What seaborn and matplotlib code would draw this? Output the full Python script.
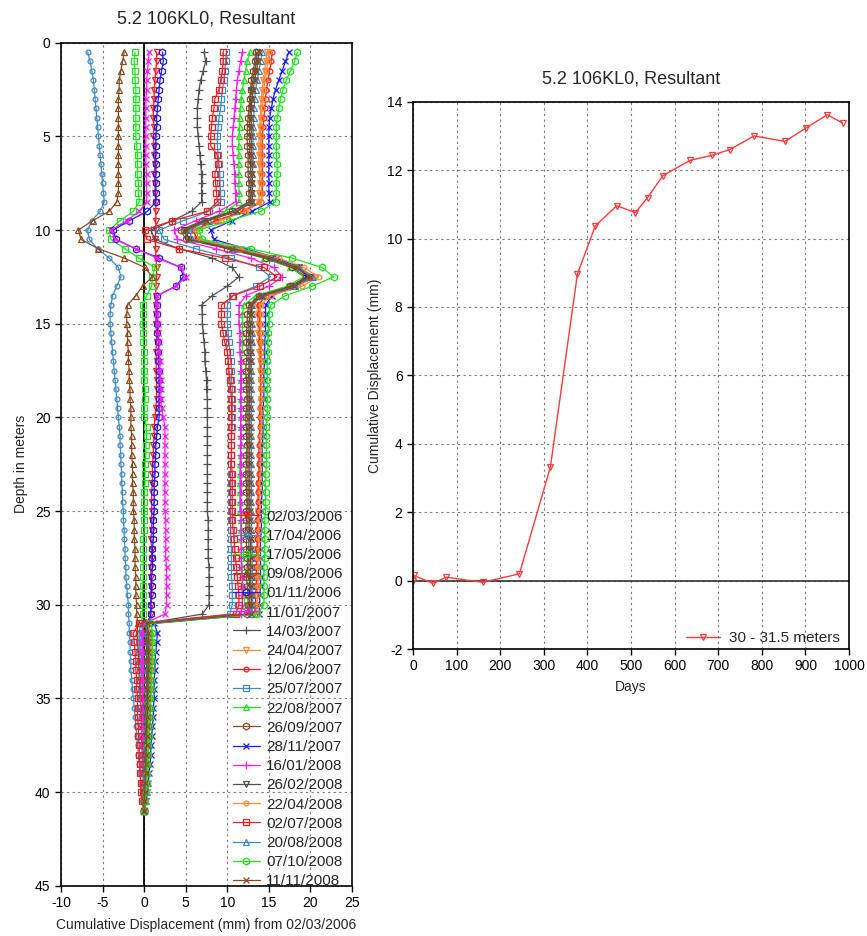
import numpy as np
import matplotlib
matplotlib.use("Agg")
import matplotlib.pyplot as plt
import seaborn as sns

# inclinometer 5.2 106KL0 - resultant cumulative displacement profiles

sns.set_style("white")
plt.rcParams['font.family'] = ['Liberation Sans', 'DejaVu Sans']
plt.rcParams['axes.unicode_minus'] = False

# depth of each reading (m), one every 0.5 m
depth_m = np.arange(0.5, 41.01, 0.5)

# cumulative displacement (mm) per survey, read top to bottom
# rows: 0.5-8.5 m | 9-14 m | 14.5-30.5 m | 31-41 m
d_02_03_2006 = [1.5, 1.5, 1.4, 1.3, 1.2, 1.2, 1.1, 1.1, 1.2, 1.1, 1.2, 1.2, 1.3, 1.2, 1.3, 1.3, 1.4,
                1.4, 1.4, 1.4, 1.3, 1.4, 1.4, 1.5, 1.5, 1.4, 1.4, 1.4,
                1.4, 1.4, 1.5, 1.5, 1.4, 1.5, 1.4, 1.5, 1.5, 1.5, 1.4,
                1.3, 1.2, 1.2, 1.1, 1.1, 1.0, 1.0, 1.0, 0.9, 0.9, 0.9,
                0.9, 0.9, 0.8, 0.9, 0.9, 0.8, 0.8, 0.8, 0.8, 0.8, 0.8,
                0.3, 0.5, 0.6, 0.6, 0.6, 0.5, 0.5, 0.5, 0.4, 0.4, 0.4,
                0.3, 0.3, 0.3, 0.2, 0.2, 0.2, 0.1, 0.1, 0.1, 0.0]
d_17_04_2006 = [-6.8, -6.5, -6.3, -6.1, -6.0, -5.9, -5.8, -5.7, -5.6, -5.5, -5.4, -5.3, -5.2, -5.1, -5.0, -4.9, -4.8,
                -5.3, -6.3, -6.8, -6.6, -5.6, -4.2, -3.1, -2.8, -3.3, -3.8, -4.0,
                -4.1, -4.1, -4.0, -3.9, -3.8, -3.7, -3.6, -3.5, -3.4, -3.3, -3.2,
                -3.1, -3.0, -2.9, -2.9, -2.8, -2.8, -2.7, -2.7, -2.6, -2.6, -2.5,
                -2.5, -2.4, -2.4, -2.3, -2.3, -2.2, -2.2, -2.1, -2.0, -1.9, -1.9,
                -1.8, -1.8, -1.7, -1.7, -1.6, -1.6, -1.5, -1.4, -1.3, -1.2, -1.1,
                -1.0, -0.9, -0.8, -0.7, -0.6, -0.5, -0.4, -0.3, -0.2, 0.0]
d_17_05_2006 = [-1.1, -1.2, -1.1, -1.1, -1.0, -1.0, -1.0, -1.0, -1.0, -1.0, -0.9, -0.8, -0.8, -0.8, -0.7, -0.7, -0.6,
                -1.3, -2.9, -4.2, -4.0, -2.3, -0.6, 1.3, 1.0, 0.9, 0.3, -0.2,
                -0.2, -0.2, -0.1, -0.1, 0.0, 0.0, 0.0, 0.0, 0.1, 0.1, 0.0,
                0.0, 0.3, 0.3, 0.2, 0.2, 0.1, 0.1, 0.1, 0.0, 0.0, 0.0,
                0.0, 0.0, -0.1, -0.1, -0.1, -0.1, -0.1, -0.2, -0.2, -0.2, -0.2,
                -0.3, -0.2, -0.2, -0.2, -0.1, -0.1, -0.1, -0.1, 0.0, 0.0, 0.0,
                0.0, 0.0, 0.0, 0.0, 0.0, 0.0, 0.0, 0.0, 0.0, 0.0]
d_09_08_2006 = [-2.4, -2.6, -2.8, -3.0, -3.0, -3.1, -3.1, -3.1, -3.1, -3.1, -3.1, -3.1, -3.1, -3.1, -3.1, -3.1, -3.3,
                -4.2, -6.2, -7.9, -7.6, -5.5, -2.4, 0.1, 1.0, -0.2, -1.0, -2.0,
                -2.1, -2.1, -2.0, -2.0, -1.9, -1.9, -1.8, -1.8, -1.7, -1.7, -1.6,
                -1.6, -1.6, -1.5, -1.5, -1.5, -1.4, -1.4, -1.4, -1.3, -1.3, -1.3,
                -1.2, -1.2, -1.2, -1.1, -1.1, -1.1, -1.0, -1.0, -1.0, -0.9, -0.9,
                -0.8, -0.8, -0.8, -0.7, -0.7, -0.6, -0.6, -0.5, -0.5, -0.4, -0.4,
                -0.3, -0.3, -0.3, -0.2, -0.2, -0.1, -0.1, -0.1, 0.0, 0.0]
d_01_11_2006 = [2.2, 2.3, 2.1, 1.9, 1.8, 1.7, 1.6, 1.5, 1.5, 1.4, 1.4, 1.4, 1.4, 1.4, 1.4, 1.4, 1.4,
                0.4, -1.8, -3.7, -3.4, -1.0, 1.8, 4.4, 4.7, 3.8, 1.6, 1.5,
                1.5, 1.6, 1.6, 1.7, 1.7, 1.7, 1.8, 1.8, 1.8, 1.8, 1.8,
                1.8, 1.6, 1.5, 1.4, 1.4, 1.3, 1.3, 1.2, 1.2, 1.2, 1.2,
                1.1, 1.1, 1.1, 1.0, 1.0, 1.0, 0.9, 0.9, 0.9, 0.8, 0.8,
                0.6, 0.6, 0.5, 0.5, 0.5, 0.4, 0.4, 0.4, 0.3, 0.3, 0.3,
                0.3, 0.2, 0.2, 0.2, 0.2, 0.1, 0.1, 0.1, 0.0, 0.0]
d_11_01_2007 = [0.6, 0.5, 0.4, 0.3, 0.3, 0.2, 0.2, 0.2, 0.2, 0.2, 0.2, 0.2, 0.2, 0.3, 0.3, 0.3, 0.3,
                -0.6, -2.1, -4.0, -3.5, -1.0, 1.6, 4.4, 5.0, 3.8, 1.6, 1.5,
                1.6, 1.7, 1.7, 1.8, 1.8, 1.9, 1.9, 2.0, 2.0, 2.0, 2.1,
                2.3, 2.5, 2.5, 2.5, 2.5, 2.5, 2.5, 2.5, 2.5, 2.5, 2.5,
                2.6, 2.6, 2.6, 2.6, 2.6, 2.7, 2.7, 2.7, 2.7, 2.7, 2.5,
                0.0, -0.3, -0.4, -0.4, -0.3, -0.3, -0.3, -0.2, -0.2, -0.2, -0.2,
                -0.1, -0.1, -0.1, -0.1, -0.1, 0.0, 0.0, 0.0, 0.0, 0.0]
d_14_03_2007 = [7.2, 7.4, 7.1, 6.8, 6.6, 6.5, 6.4, 6.4, 6.4, 6.5, 6.6, 6.7, 6.8, 6.9, 6.9, 6.9, 6.9,
                5.7, 3.4, 0.8, 1.3, 4.2, 8.2, 10.6, 11.4, 10.0, 8.2, 6.9,
                7.0, 7.0, 7.1, 7.2, 7.3, 7.3, 7.4, 7.5, 7.5, 7.6, 7.6,
                7.6, 7.6, 7.6, 7.6, 7.6, 7.6, 7.6, 7.6, 7.6, 7.6, 7.6,
                7.7, 7.7, 7.7, 7.7, 7.7, 7.8, 7.8, 7.8, 7.8, 7.8, 7.0,
                0.2, 0.3, 0.4, 0.4, 0.4, 0.4, 0.3, 0.3, 0.3, 0.3, 0.2,
                0.2, 0.2, 0.2, 0.1, 0.1, 0.1, 0.1, 0.0, 0.0, 0.0]
d_24_04_2007 = [14.8, 14.6, 14.5, 14.3, 14.2, 14.1, 14.0, 14.0, 13.9, 13.8, 13.8, 13.8, 13.8, 13.9, 13.9, 13.8, 13.8,
                11.8, 9.0, 5.8, 6.4, 11.4, 15.8, 18.6, 20.6, 18.4, 14.8, 13.6,
                13.6, 13.7, 13.7, 13.8, 13.8, 13.9, 13.9, 14.0, 14.0, 14.0, 14.0,
                14.0, 14.0, 14.0, 14.0, 13.9, 13.9, 13.9, 13.8, 13.8, 13.8, 13.7,
                13.7, 13.7, 13.6, 13.6, 13.6, 13.5, 13.5, 13.5, 13.4, 13.4, 13.2,
                0.3, 0.6, 0.7, 0.7, 0.7, 0.7, 0.6, 0.6, 0.6, 0.5, 0.5,
                0.5, 0.4, 0.4, 0.3, 0.3, 0.2, 0.2, 0.1, 0.1, 0.0]
d_12_06_2007 = [15.4, 15.3, 15.1, 14.9, 14.7, 14.6, 14.5, 14.4, 14.3, 14.2, 14.2, 14.2, 14.2, 14.2, 14.2, 14.2, 14.1,
                12.0, 8.6, 6.0, 6.3, 11.2, 15.4, 18.4, 20.0, 18.0, 14.6, 13.8,
                13.8, 13.9, 13.9, 13.9, 14.0, 14.0, 14.0, 14.0, 14.0, 14.0, 13.9,
                13.9, 13.9, 13.9, 13.8, 13.8, 13.8, 13.8, 13.7, 13.7, 13.7, 13.7,
                13.6, 13.6, 13.6, 13.6, 13.5, 13.5, 13.5, 13.5, 13.4, 13.4, 13.3,
                0.2, 0.5, 0.6, 0.6, 0.6, 0.6, 0.5, 0.5, 0.5, 0.5, 0.4,
                0.4, 0.4, 0.3, 0.3, 0.3, 0.2, 0.2, 0.1, 0.1, 0.0]
d_25_07_2007 = [9.9, 9.8, 9.7, 9.6, 9.4, 9.3, 9.2, 9.0, 8.9, 8.8, 8.8, 8.9, 9.0, 9.1, 9.1, 9.2, 9.2,
                7.8, 4.7, 1.8, 2.4, 6.2, 10.4, 13.8, 15.2, 13.4, 10.6, 10.0,
                10.0, 10.0, 10.1, 10.2, 10.3, 10.4, 10.5, 10.5, 10.6, 10.6, 10.6,
                10.6, 10.6, 10.5, 10.5, 10.5, 10.4, 10.4, 10.4, 10.4, 10.4, 10.4,
                10.4, 10.4, 10.4, 10.5, 10.5, 10.5, 10.5, 10.6, 10.6, 10.6, 10.3,
                -0.4, -0.6, -0.6, -0.6, -0.5, -0.5, -0.5, -0.4, -0.4, -0.4, -0.3,
                -0.3, -0.3, -0.2, -0.2, -0.2, -0.1, -0.1, -0.1, 0.0, 0.0]
d_22_08_2007 = [12.7, 12.4, 12.2, 12.0, 11.8, 11.7, 11.6, 11.5, 11.5, 11.4, 11.4, 11.4, 11.4, 11.4, 11.4, 11.4, 11.4,
                9.8, 7.4, 5.0, 5.4, 10.2, 14.4, 17.6, 19.2, 17.2, 13.4, 12.0,
                11.8, 11.8, 11.8, 11.8, 11.8, 11.7, 11.7, 11.7, 11.7, 11.6, 11.6,
                11.6, 11.6, 11.6, 11.6, 11.6, 11.5, 11.5, 11.5, 11.5, 11.5, 11.5,
                11.6, 11.6, 11.6, 11.7, 11.7, 11.8, 11.8, 11.9, 12.0, 12.1, 12.8,
                0.4, 0.8, 1.0, 1.0, 1.0, 0.9, 0.9, 0.9, 0.8, 0.8, 0.7,
                0.7, 0.6, 0.6, 0.5, 0.5, 0.4, 0.3, 0.2, 0.1, 0.0]
d_26_09_2007 = [13.4, 13.3, 13.1, 12.9, 12.8, 12.7, 12.6, 12.5, 12.4, 12.4, 12.4, 12.5, 12.5, 12.5, 12.6, 12.6, 12.6,
                10.6, 7.0, 4.4, 5.0, 10.0, 14.6, 17.8, 19.5, 17.6, 13.8, 12.6,
                12.4, 12.4, 12.3, 12.3, 12.4, 12.3, 12.2, 12.3, 12.3, 12.4, 12.3,
                12.2, 12.3, 12.3, 12.4, 12.3, 12.3, 12.2, 12.3, 12.3, 12.4, 12.3,
                12.3, 12.2, 12.3, 12.3, 12.4, 12.4, 12.3, 12.4, 12.5, 12.5, 12.4,
                0.1, 0.2, 0.2, 0.3, 0.3, 0.3, 0.3, 0.3, 0.3, 0.3, 0.3,
                0.2, 0.2, 0.2, 0.2, 0.2, 0.1, 0.1, 0.1, 0.0, 0.0]
d_28_11_2007 = [17.4, 17.0, 16.6, 16.2, 15.8, 15.5, 15.3, 15.1, 15.0, 15.0, 15.0, 15.0, 15.0, 15.0, 15.0, 15.0, 15.1,
                13.0, 10.6, 8.0, 8.4, 12.2, 16.0, 18.6, 19.6, 18.2, 15.4, 14.6,
                14.6, 14.6, 14.6, 14.5, 14.5, 14.5, 14.4, 14.4, 14.4, 14.4, 14.3,
                14.3, 14.3, 14.3, 14.2, 14.2, 14.2, 14.2, 14.2, 14.2, 14.1, 14.1,
                14.1, 14.1, 14.0, 14.0, 14.0, 14.0, 14.0, 14.0, 13.9, 13.9, 13.8,
                1.2, 1.6, 1.5, 1.4, 1.3, 1.3, 1.2, 1.2, 1.2, 1.1, 1.1,
                1.0, 0.9, 0.8, 0.8, 0.7, 0.6, 0.5, 0.4, 0.2, 0.0]
d_16_01_2008 = [11.8, 11.6, 11.4, 11.2, 11.1, 11.0, 10.9, 10.8, 10.7, 10.6, 10.6, 10.7, 10.8, 10.9, 10.9, 11.0, 11.0,
                9.0, 6.2, 3.6, 4.0, 8.6, 12.8, 15.6, 16.6, 15.0, 12.2, 11.4,
                11.4, 11.4, 11.5, 11.5, 11.5, 11.6, 11.6, 11.6, 11.6, 11.6, 11.6,
                11.6, 11.6, 11.6, 11.6, 11.6, 11.6, 11.6, 11.6, 11.6, 11.6, 11.6,
                11.7, 11.7, 11.7, 11.7, 11.7, 11.7, 11.8, 11.8, 11.8, 11.8, 11.6,
                -0.1, -0.2, -0.2, -0.2, -0.2, -0.2, -0.2, -0.1, -0.1, -0.1, -0.1,
                -0.1, -0.1, -0.1, 0.0, 0.0, 0.0, 0.0, 0.0, 0.0, 0.0]
d_26_02_2008 = [13.6, 13.5, 13.3, 13.1, 12.9, 12.8, 12.8, 12.7, 12.7, 12.7, 12.7, 12.7, 12.8, 12.8, 12.8, 12.8, 12.8,
                10.8, 7.2, 4.8, 5.2, 10.4, 15.0, 18.2, 19.8, 17.8, 14.0, 12.8,
                12.7, 12.6, 12.6, 12.6, 12.6, 12.6, 12.6, 12.5, 12.5, 12.5, 12.5,
                12.5, 12.5, 12.5, 12.5, 12.5, 12.5, 12.5, 12.5, 12.5, 12.5, 12.5,
                12.5, 12.5, 12.6, 12.6, 12.6, 12.6, 12.6, 12.7, 12.7, 12.7, 12.6,
                0.2, 0.3, 0.3, 0.3, 0.3, 0.3, 0.3, 0.3, 0.2, 0.2, 0.2,
                0.2, 0.2, 0.2, 0.1, 0.1, 0.1, 0.1, 0.0, 0.0, 0.0]
d_22_04_2008 = [15.0, 14.9, 14.7, 14.5, 14.4, 14.3, 14.2, 14.1, 14.0, 14.0, 14.0, 14.0, 14.0, 14.1, 14.1, 14.1, 14.1,
                12.2, 9.2, 6.2, 6.6, 11.6, 16.2, 19.2, 21.0, 19.0, 15.2, 14.0,
                14.0, 14.0, 14.0, 14.1, 14.1, 14.1, 14.1, 14.1, 14.1, 14.1, 14.1,
                14.1, 14.1, 14.0, 14.0, 14.0, 14.0, 14.0, 13.9, 13.9, 13.9, 13.9,
                13.8, 13.8, 13.8, 13.8, 13.7, 13.7, 13.7, 13.7, 13.6, 13.6, 13.5,
                0.4, 0.7, 0.8, 0.8, 0.8, 0.7, 0.7, 0.7, 0.6, 0.6, 0.6,
                0.5, 0.5, 0.4, 0.4, 0.3, 0.3, 0.2, 0.2, 0.1, 0.0]
d_02_07_2008 = [9.5, 9.5, 9.4, 9.2, 9.0, 8.5, 8.4, 8.2, 8.1, 8.0, 8.0, 8.8, 8.9, 8.5, 8.6, 8.7, 8.8,
                7.6, 3.4, 0.1, 0.3, 4.2, 9.7, 14.4, 16.0, 13.9, 10.7, 9.3,
                9.3, 9.3, 9.5, 9.7, 10.0, 10.1, 10.2, 10.3, 10.4, 10.5, 10.5,
                10.5, 10.5, 10.5, 10.5, 10.5, 10.5, 10.6, 10.6, 10.6, 10.6, 10.6,
                10.6, 10.7, 10.8, 10.9, 11.0, 11.1, 11.2, 11.3, 11.4, 11.4, 11.0,
                -0.6, -1.3, -1.2, -1.1, -1.0, -1.0, -0.9, -0.9, -0.8, -0.8, -0.8,
                -0.7, -0.7, -0.6, -0.6, -0.5, -0.5, -0.4, -0.4, -0.3, 0.0]
d_20_08_2008 = [14.2, 14.0, 13.8, 13.6, 13.4, 13.3, 13.2, 13.2, 13.1, 13.1, 13.1, 13.1, 13.1, 13.0, 13.0, 13.0, 13.0,
                11.0, 7.8, 5.4, 5.8, 10.8, 15.4, 18.6, 20.3, 18.2, 14.2, 13.0,
                13.0, 13.0, 13.0, 13.0, 12.9, 12.9, 12.9, 12.9, 12.9, 12.9, 12.9,
                12.9, 12.9, 12.9, 12.9, 12.9, 12.9, 12.9, 12.9, 12.9, 12.9, 12.9,
                12.9, 12.9, 12.9, 13.0, 13.0, 13.0, 13.0, 13.0, 13.0, 13.1, 12.9,
                0.2, 0.4, 0.5, 0.5, 0.5, 0.4, 0.4, 0.4, 0.4, 0.3, 0.3,
                0.3, 0.3, 0.2, 0.2, 0.2, 0.1, 0.1, 0.1, 0.0, 0.0]
d_07_10_2008 = [18.4, 18.1, 17.6, 17.1, 16.7, 16.4, 16.2, 16.0, 15.9, 15.9, 15.9, 15.9, 16.0, 16.0, 15.9, 15.9, 15.8,
                14.0, 10.2, 6.6, 7.0, 12.8, 17.8, 21.4, 22.8, 20.2, 17.0, 15.2,
                15.0, 15.0, 14.9, 14.9, 14.9, 14.8, 14.8, 14.8, 14.8, 14.8, 14.8,
                14.8, 14.7, 14.7, 14.7, 14.7, 14.7, 14.6, 14.6, 14.6, 14.6, 14.6,
                14.5, 14.5, 14.5, 14.5, 14.5, 14.4, 14.4, 14.4, 14.4, 14.4, 13.6,
                0.8, 1.0, 1.0, 0.9, 0.9, 0.8, 0.8, 0.8, 0.7, 0.7, 0.7,
                0.6, 0.6, 0.5, 0.5, 0.4, 0.4, 0.3, 0.2, 0.1, 0.0]
d_11_11_2008 = [13.8, 13.7, 13.5, 13.3, 13.1, 13.0, 12.9, 12.9, 12.9, 12.9, 12.9, 12.9, 13.0, 13.0, 13.0, 13.0, 13.0,
                11.2, 7.6, 5.0, 5.4, 10.6, 15.2, 18.4, 20.0, 18.0, 14.2, 12.9,
                12.9, 12.8, 12.8, 12.8, 12.8, 12.8, 12.7, 12.7, 12.7, 12.7, 12.7,
                12.7, 12.7, 12.7, 12.7, 12.7, 12.7, 12.7, 12.7, 12.7, 12.7, 12.7,
                12.7, 12.7, 12.8, 12.8, 12.8, 12.8, 12.8, 12.8, 12.9, 12.9, 12.8,
                0.3, 0.5, 0.5, 0.5, 0.5, 0.5, 0.4, 0.4, 0.4, 0.4, 0.3,
                0.3, 0.3, 0.3, 0.2, 0.2, 0.2, 0.1, 0.1, 0.0, 0.0]

survey_dates = ["02/03/2006", "17/04/2006", "17/05/2006", "09/08/2006", "01/11/2006",
                "11/01/2007", "14/03/2007", "24/04/2007", "12/06/2007", "25/07/2007",
                "22/08/2007", "26/09/2007", "28/11/2007", "16/01/2008", "26/02/2008",
                "22/04/2008", "02/07/2008", "20/08/2008", "07/10/2008", "11/11/2008"]
profiles = [d_02_03_2006, d_17_04_2006, d_17_05_2006, d_09_08_2006, d_01_11_2006,
            d_11_01_2007, d_14_03_2007, d_24_04_2007, d_12_06_2007, d_25_07_2007,
            d_22_08_2007, d_26_09_2007, d_28_11_2007, d_16_01_2008, d_26_02_2008,
            d_22_04_2008, d_02_07_2008, d_20_08_2008, d_07_10_2008, d_11_11_2008]

# 30 - 31.5 m displacement against time
days = [0, 2, 46, 76, 160, 244, 315, 377, 418, 467, 510, 538, 573, 636, 685, 726, 782, 853, 902, 950, 985]
disp_30m = [0.0, 0.15, -0.08, 0.1, -0.05, 0.2, 3.32, 8.96, 10.37, 10.96, 10.76, 11.2, 11.84,
            12.29, 12.43, 12.6, 13.0, 12.84, 13.24, 13.62, 13.38]

# style cycles (colours repeat every 8, markers every 7)
colours = ["#ff1a1a", "#3d8ac9", "#19e619", "#8b4a1c", "#1a1aff", "#ff19ff", "#505050", "#ff8a33"]
markers = ["v", "o", "s", "^", "h", "x", "+"]
msizes = {"v": 4.5, "o": 3.5, "s": 5, "^": 4.5, "h": 5, "x": 4.5, "+": 6}

fig = plt.figure(figsize=(8.67, 9.36), dpi=100)
ax1 = fig.add_axes([0.0704, 0.0537, 0.3356, 0.9007])
ax2 = fig.add_axes([0.4764, 0.3066, 0.5029, 0.5847])

ax1.axvline(0, color="black", lw=1.3, zorder=1.5)
for k, (lab, vals) in enumerate(zip(survey_dates, profiles)):
    c = colours[k % 8]
    m = markers[k % 7]
    sns.lineplot(x=vals, y=depth_m, orient="y", sort=False, estimator=None, ax=ax1,
                 color=c, marker=m, ms=msizes[m], mfc="none", mec=c, mew=0.9,
                 lw=0.9, label=lab)

ax1.set_xlim(-10, 25)
ax1.set_ylim(45, 0)
ax1.set_xticks(range(-10, 26, 5))
ax1.set_yticks(range(0, 46, 5))
ax1.grid(True, ls=(0, (2, 3)), color="#777777", lw=0.8)
ax1.set_title("5.2 106KL0, Resultant", fontsize=13, pad=14)
ax1.set_xlabel("Cumulative Displacement (mm) from 02/03/2006", fontsize=10, labelpad=6)
ax1.set_ylabel("Depth in meters", fontsize=10, labelpad=5)
ax1.legend(loc="lower right", bbox_to_anchor=(1.0, -0.014), frameon=False, fontsize=11,
           labelspacing=0.34, handlelength=1.8, handletextpad=0.4, borderaxespad=0.2)

sns.lineplot(x=days, y=disp_30m, sort=False, estimator=None, ax=ax2, color="#ff3b3b",
             marker="v", ms=4.5, mfc="none", mec="#ff3b3b", mew=0.9, lw=1.0,
             label="30 - 31.5 meters")
ax2.axhline(0, color="#333333", lw=1.2, zorder=1.5)
ax2.set_xlim(0, 1000)
ax2.set_ylim(-2, 14)
ax2.set_xticks(range(0, 1001, 100))
ax2.set_yticks(range(-2, 15, 2))
ax2.grid(True, ls=(0, (2, 3)), color="#777777", lw=0.8)
ax2.set_title("5.2 106KL0, Resultant", fontsize=13, pad=13)
ax2.set_xlabel("Days", fontsize=10, labelpad=5)
ax2.set_ylabel("Cumulative Displacement (mm)", fontsize=10, labelpad=4)
ax2.legend(loc="lower right", bbox_to_anchor=(1.0, -0.01), frameon=False, fontsize=11,
           handlelength=2.2, handletextpad=0.6, borderaxespad=0.2)

for ax in (ax1, ax2):
    ax.tick_params(direction="out", length=4, width=1, labelsize=10, colors="black",
                   bottom=True, left=True)
    for sp in ax.spines.values():
        sp.set_color("black")
        sp.set_linewidth(1.2)

fig.savefig("out.png", dpi=100)
